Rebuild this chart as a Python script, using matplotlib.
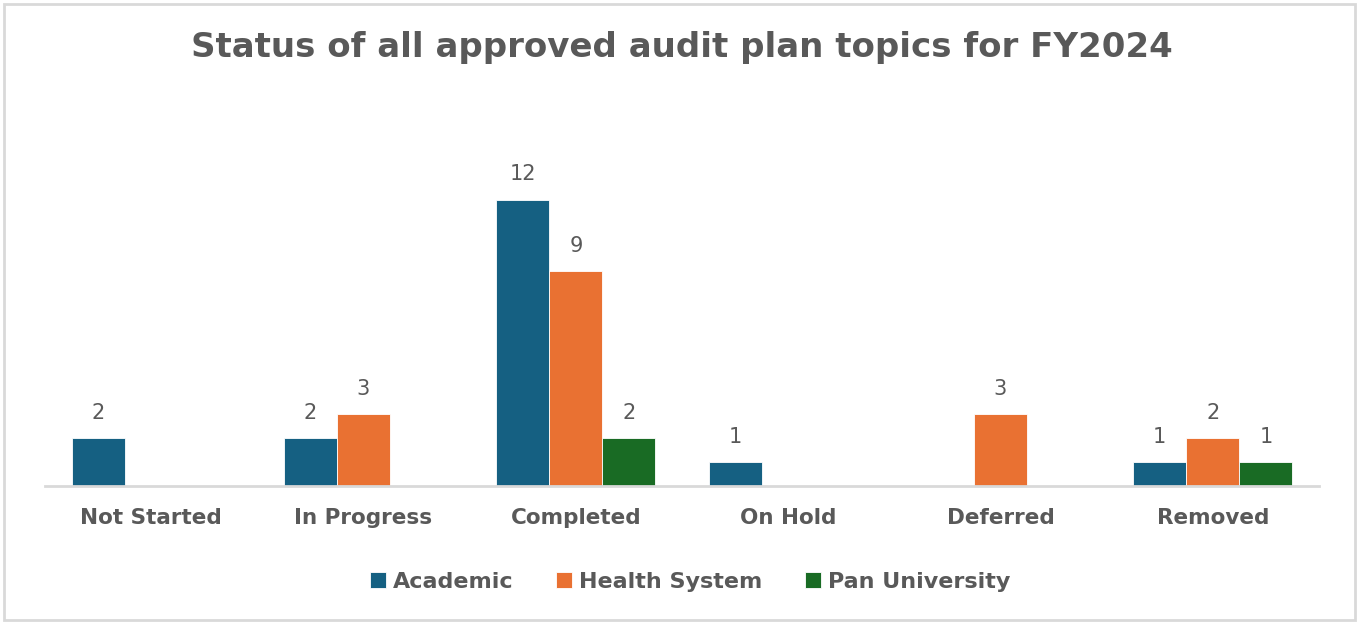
import matplotlib
matplotlib.use("Agg")
import matplotlib.pyplot as plt
import numpy as np
from matplotlib.patches import Rectangle

categories = ["Not Started", "In Progress", "Completed", "On Hold", "Deferred", "Removed"]
academic = [2, 2, 12, 1, 0, 1]
health_system = [0, 3, 9, 0, 3, 2]
pan_university = [0, 0, 2, 0, 0, 1]
series_names = ["Academic", "Health System", "Pan University"]
colors = ["#156082", "#E97132", "#196B24"]

plt.rcParams['font.family'] = ['DejaVu Sans']
text_color = "#595959"

fig = plt.figure(figsize=(13.59, 6.24), dpi=100)
ax = fig.add_axes([45/1359, (624-486)/624, (1319-45)/1359, (486-152)/624])

x = np.arange(len(categories))
w = 0.25
for i, (vals, name, c) in enumerate(zip([academic, health_system, pan_university], series_names, colors)):
    pos = x + (i - 1) * w
    bars = ax.bar(pos, vals, width=w, color=c, label=name, edgecolor='white', linewidth=0.6)
    for xp, v in zip(pos, vals):
        if v > 0:
            ax.annotate(str(v), (xp, v), xytext=(0, 11), textcoords='offset points',
                        ha='center', va='bottom', fontsize=15, color=text_color)

ax.set_xlim(-0.5, len(categories) - 0.5)
ax.set_ylim(0, 14)
ax.set_xticks(x)
ax.set_xticklabels(categories, fontsize=15.5, fontweight='bold', color=text_color)
ax.tick_params(axis='x', length=0, pad=16)
ax.set_yticks([])
for s in ['top', 'right', 'left']:
    ax.spines[s].set_visible(False)
ax.spines['bottom'].set_color('#D9D9D9')
ax.spines['bottom'].set_linewidth(2)

fig.suptitle("Status of all approved audit plan topics for FY2024", x=682/1359, y=1-48/624,
             va='center', fontsize=24.5, fontweight='bold', color=text_color)

leg = fig.legend(loc='center', bbox_to_anchor=(690/1359, 1-582/624), ncol=3, frameon=False,
                 handlelength=0.75, handleheight=0.75, handletextpad=0.3, columnspacing=1.9,
                 prop={'size': 16, 'weight': 'bold'})
for t in leg.get_texts():
    t.set_color(text_color)

fig.patches.append(Rectangle((4/1359, 4/624), 1351/1359, 616/624, transform=fig.transFigure,
                             fill=False, edgecolor='#D9D9D9', linewidth=2))

fig.savefig("out.png", dpi=100)
